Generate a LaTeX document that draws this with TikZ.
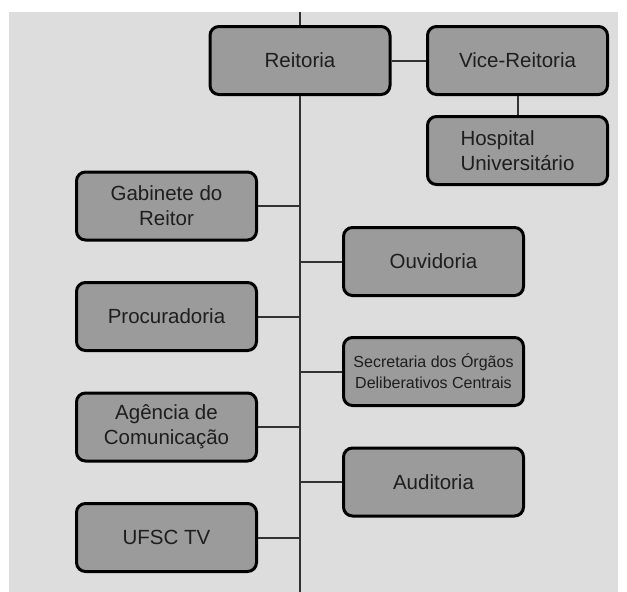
\documentclass[tikz,border=0pt]{standalone}
\usepackage{fontspec}
\setmainfont{Liberation Sans}
\definecolor{BackClr}{RGB}{221,221,221}
\definecolor{BoxClr}{RGB}{155,155,155}
\definecolor{LineClr}{RGB}{50,50,50}
\definecolor{TextClr}{RGB}{30,30,30}

\begin{document}
\begin{tikzpicture}[x=1pt,y=-1pt,
  unit/.style={draw=black,line width=3pt,fill=BoxClr,rounded corners=9pt,
    minimum width=180pt,minimum height=68pt,inner sep=2pt,align=center,
    text=TextClr,font=\fontsize{20.5}{25}\selectfont},
  link/.style={draw=LineClr,line width=2pt}]
\useasboundingbox (0,0) rectangle (627,592);
\fill[BackClr] (9,12) rectangle (618,592);

\coordinate (top) at (300,12);
\coordinate (bottom) at (300,592);

% main column
\node[unit] (reitoria) at (300,60.5) {Reitoria};
\node[unit] (vice) at (517.5,60.5) {Vice-Reitoria};
\node[unit,align=left] (hospital) at (517.5,150.5) {Hospital\\Universitário};

% left side
\node[unit] (gabinete) at (166.5,206) {Gabinete do\\Reitor};
\node[unit] (procuradoria) at (166.5,316.5) {Procuradoria};
\node[unit] (agencia) at (166.5,427) {Agência de\\Comunicação};
\node[unit] (ufsc) at (166.5,537.5) {UFSC TV};

% right side
\node[unit] (ouvidoria) at (433.5,261.5) {Ouvidoria};
\node[unit,font=\fontsize{16}{21}\selectfont] (secretaria) at (433.5,371.5)
  {Secretaria dos Órgãos\\Deliberativos Centrais};
\node[unit] (auditoria) at (433.5,482) {Auditoria};

\draw[link] (top) -- (reitoria);
\draw[link] (reitoria) -- (bottom);
\draw[link] (reitoria) -- (vice);
\draw[link] (vice) -- (hospital);
\foreach \n in {gabinete,procuradoria,agencia,ufsc,ouvidoria,secretaria,auditoria}
  \draw[link] (\n) -- (\n -| reitoria);

\end{tikzpicture}
\end{document}
